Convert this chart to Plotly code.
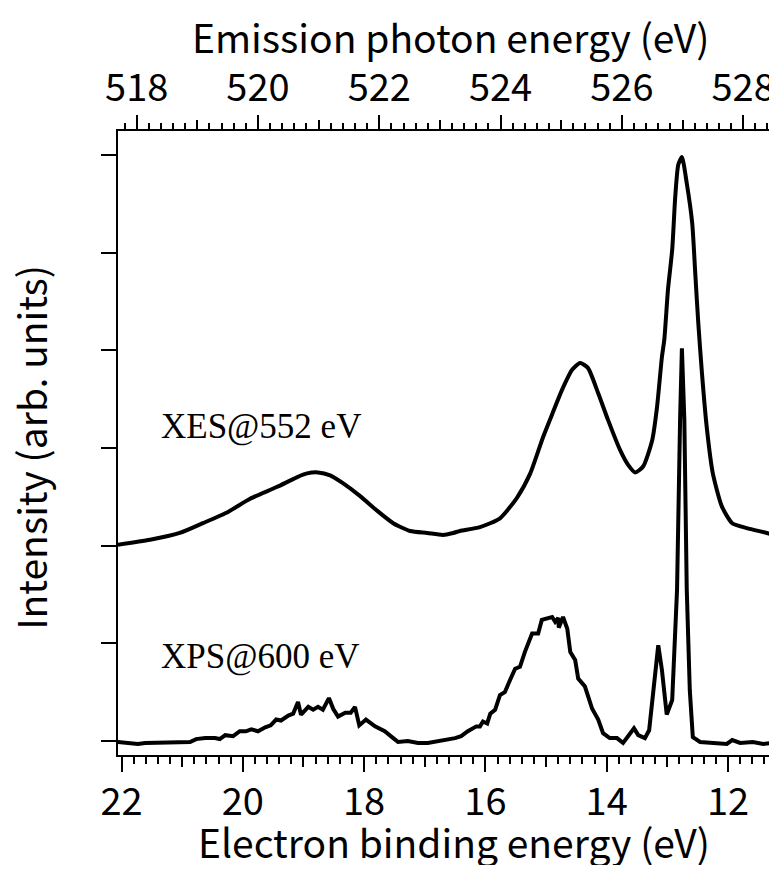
import plotly.graph_objects as go

# ---------------- data ----------------
xes_binding = [22.06, 21.53, 21.04, 20.66, 20.26, 19.88, 19.44, 19.11, 18.94, 18.76,
               18.56, 18.35, 18.07, 17.79, 17.52, 17.24, 16.96, 16.70, 16.53, 16.42,
               16.09, 15.76, 15.48, 15.26, 15.05, 14.89, 14.74, 14.57, 14.44, 14.31,
               14.14, 13.98, 13.78, 13.65, 13.53, 13.40, 13.25, 13.17, 13.09, 13.05,
               12.99, 12.92, 12.87, 12.82, 12.76, 12.68, 12.59, 12.54, 12.49, 12.43,
               12.35, 12.25, 12.10, 11.93, 11.69, 11.36, 11.19]
xes_intensity = [2.01, 2.06, 2.13, 2.23, 2.34, 2.48, 2.60, 2.70, 2.74, 2.75,
                 2.72, 2.64, 2.51, 2.36, 2.23, 2.15, 2.13, 2.11, 2.13, 2.15,
                 2.19, 2.28, 2.49, 2.74, 3.11, 3.36, 3.59, 3.80, 3.87, 3.82,
                 3.56, 3.29, 2.98, 2.83, 2.75, 2.81, 3.08, 3.42, 3.93, 4.11,
                 4.62, 5.03, 5.57, 5.90, 5.98, 5.71, 5.30, 4.79, 4.28, 3.77,
                 3.21, 2.74, 2.40, 2.23, 2.18, 2.13, 2.10]

xps_binding = [22.06, 21.84, 21.73, 21.61, 21.51, 21.35, 21.18, 21.02, 20.87, 20.77,
               20.62, 20.46, 20.38, 20.29, 20.16, 20.05, 19.95, 19.86, 19.75, 19.63,
               19.54, 19.45, 19.37, 19.25, 19.17, 19.09, 19.04, 18.92, 18.84, 18.76,
               18.68, 18.58, 18.51, 18.43, 18.31, 18.22, 18.15, 18.08, 17.97, 17.82,
               17.66, 17.52, 17.44, 17.28, 17.11, 16.95, 16.78, 16.62, 16.50, 16.40,
               16.29, 16.15, 16.09, 16.04, 15.97, 15.92, 15.84, 15.76, 15.68, 15.59,
               15.51, 15.43, 15.35, 15.23, 15.13, 15.07, 14.98, 14.90, 14.85, 14.80,
               14.79, 14.72, 14.65, 14.60, 14.52, 14.47, 14.36, 14.24, 14.14, 14.06,
               13.95, 13.83, 13.73, 13.65, 13.55, 13.48, 13.37, 13.30, 13.24, 13.15,
               13.09, 13.01, 12.92, 12.87, 12.84, 12.79, 12.76, 12.72, 12.68, 12.63,
               12.58, 12.46, 12.25, 12.02, 11.93, 11.80, 11.59, 11.42, 11.19]
xps_intensity = [-0.01, -0.02, -0.03, -0.02, -0.02, -0.01, -0.02, -0.01, -0.01, 0.02,
                 0.03, 0.03, 0.02, 0.06, 0.05, 0.10, 0.10, 0.12, 0.10, 0.14,
                 0.16, 0.22, 0.21, 0.26, 0.28, 0.40, 0.27, 0.35, 0.32, 0.35,
                 0.32, 0.44, 0.33, 0.25, 0.29, 0.29, 0.35, 0.16, 0.22, 0.15,
                 0.10, 0.03, -0.01, 0.00, -0.02, -0.02, 0.00, 0.01, 0.03, 0.05,
                 0.10, 0.15, 0.15, 0.20, 0.18, 0.28, 0.32, 0.47, 0.50, 0.63,
                 0.74, 0.76, 0.91, 1.10, 1.10, 1.24, 1.26, 1.27, 1.22, 1.26,
                 1.16, 1.27, 1.15, 0.91, 0.83, 0.64, 0.56, 0.33, 0.22, 0.08,
                 0.03, 0.03, -0.02, 0.04, 0.13, 0.06, 0.03, 0.11, 0.45, 0.98,
                 0.73, 0.27, 0.42, 1.03, 1.55, 3.29, 4.02, 3.29, 1.55, 0.52,
                 0.04, -0.01, -0.02, -0.03, 0.01, -0.02, -0.01, -0.03, -0.01]

bottom_ticks = [22, 20, 18, 16, 14, 12]
top_ticks = [518, 520, 522, 524, 526, 528]
photon_offset = 539.75          # emission energy = offset - binding energy
x_range = [22.058, 11.192]
y_range = [-0.143, 6.245]

labels = ["XES@552 eV", "XPS@600 eV"]
label_pos_x = [21.38, 21.38]
label_pos_y = [3.22, 0.87]

# ---------------- figure ----------------
SANS = "Noto Sans CJK JP"
SERIF = "Liberation Serif"
TICK_SIZE = 38
TITLE_SIZE = 39

fig = go.Figure()
fig.add_trace(go.Scatter(x=xes_binding, y=xes_intensity, mode="lines",
                         line=dict(color="black", width=4, shape="spline", smoothing=0.6),
                         showlegend=False, hoverinfo="skip"))
fig.add_trace(go.Scatter(x=xps_binding, y=xps_intensity, mode="lines",
                         line=dict(color="black", width=4),
                         showlegend=False, hoverinfo="skip"))

top_range = [photon_offset - x_range[0], photon_offset - x_range[1]]

# page body has an 8px margin: size the figure so it fits the window
fig.update_layout(
    width=769, height=857,
    margin=dict(l=110, r=0, t=123, b=110),
    paper_bgcolor="white", plot_bgcolor="white",
    font=dict(family=SANS, color="black", size=TICK_SIZE),
    xaxis=dict(range=x_range, tickmode="array", tickvals=bottom_ticks,
               ticktext=[str(t) for t in bottom_ticks],
               ticks="outside", ticklen=15, tickwidth=2, tickcolor="black",
               showline=True, linewidth=2, linecolor="black", mirror=False,
               showgrid=False, zeroline=False,
               tickfont=dict(family=SANS, size=TICK_SIZE),
               ticklabelstandoff=-3,
               minor=dict(dtick=0.2, tick0=0, ticks="outside", ticklen=7,
                          tickwidth=2, tickcolor="black", showgrid=False)),
    xaxis3=dict(range=x_range, overlaying="x", side="bottom", anchor="y",
                tickmode="linear", tick0=0, dtick=1, ticks="outside", ticklen=11,
                tickwidth=2, tickcolor="black", showticklabels=False,
                showgrid=False, zeroline=False, showline=False),
    xaxis2=dict(range=top_range, overlaying="x", side="top", anchor="y",
                tickmode="array", tickvals=top_ticks,
                ticktext=[str(t) for t in top_ticks],
                ticks="outside", ticklen=14, tickwidth=2, tickcolor="black",
                showline=True, linewidth=2, linecolor="black",
                showgrid=False, zeroline=False,
                tickfont=dict(family=SANS, size=TICK_SIZE),
                ticklabelstandoff=-1,
                minor=dict(dtick=0.2, tick0=0, ticks="outside", ticklen=6,
                           tickwidth=2, tickcolor="black", showgrid=False)),
    xaxis4=dict(range=top_range, overlaying="x", side="top", anchor="y",
                tickmode="linear", tick0=0, dtick=1, ticks="outside", ticklen=10,
                tickwidth=2, tickcolor="black", showticklabels=False,
                showgrid=False, zeroline=False, showline=False),
    yaxis=dict(range=y_range, tickmode="linear", tick0=0, dtick=1,
               ticks="outside", ticklen=15, tickwidth=2, tickcolor="black",
               showticklabels=False, showline=True, linewidth=2, linecolor="black",
               showgrid=False, zeroline=False),
)

# invisible traces so overlay axes are drawn
for ax in ["x2", "x3", "x4"]:
    fig.add_trace(go.Scatter(x=[], y=[], xaxis=ax, yaxis="y", showlegend=False))

# axis titles
fig.add_annotation(text="Emission photon energy (eV)", xref="paper", yref="paper",
                   x=0.5046, y=1.152, xanchor="center", yanchor="middle",
                   showarrow=False, font=dict(family=SANS, size=TITLE_SIZE))
fig.add_annotation(text="Electron binding energy (eV)", xref="paper", yref="paper",
                   x=0.5106, y=-0.138, xanchor="center", yanchor="middle",
                   showarrow=False, font=dict(family=SANS, size=TITLE_SIZE))
fig.add_annotation(text="Intensity (arb. units)", xref="paper", yref="paper",
                   x=-0.133, y=0.4928, xanchor="center", yanchor="middle",
                   textangle=-90, showarrow=False, font=dict(family=SANS, size=TITLE_SIZE))

# series labels
for t, lx, ly in zip(labels, label_pos_x, label_pos_y):
    fig.add_annotation(text=t, x=lx, y=ly, xref="x", yref="y",
                       xanchor="left", yanchor="middle", showarrow=False,
                       font=dict(family=SERIF, size=35))

fig.write_html("out.html")
